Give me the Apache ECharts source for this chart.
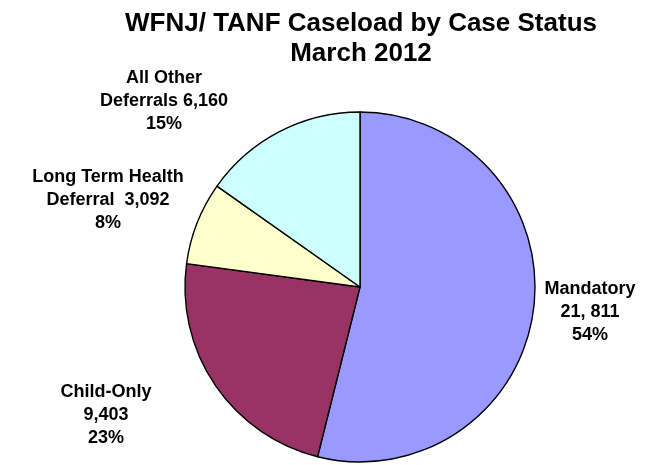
<!DOCTYPE html>
<html>
<head>
<meta charset="utf-8">
<script src="https://cdn.jsdelivr.net/npm/echarts@6/dist/echarts.min.js"></script>
<style>
  html, body { margin: 0; padding: 0; background: #fff; }
  #myChart { width: 660px; height: 465px; }
</style>
</head>
<body>
<div id="myChart"></div>
<script>
// case status categories and caseload counts
var categories = ['Mandatory', 'Child-Only', 'Long Term Health Deferral', 'All Other Deferrals'];
var caseloads = [21811, 9403, 3092, 6160];
// label text as printed on the chart
var labelLines = [
  ['Mandatory', '21, 811', '54%'],
  ['Child-Only', '9,403', '23%'],
  ['Long Term Health', 'Deferral  3,092', '8%'],
  ['All Other', 'Deferrals 6,160', '15%']
];
var titleText = 'WFNJ/ TANF Caseload by Case Status\nMarch 2012';
var colors = ['#9999FF', '#993366', '#FFFFCC', '#CCFFFF'];
// where each label block is centred (px)
var labelPos = [[590, 312], [106, 415], [108, 200], [164, 101]];

var pieData = categories.map(function (c, i) {
  return { name: c, value: caseloads[i], itemStyle: { color: colors[i] } };
});

var myChart = echarts.init(document.getElementById('myChart'));
myChart.setOption({
  animation: false,
  graphic: [{
    type: 'text',
    x: 361,
    y: 9,
    style: {
      text: titleText,
      align: 'center',
      verticalAlign: 'top',
      font: 'bold 26px "Liberation Sans", Arial, sans-serif',
      lineHeight: 30,
      fill: '#000'
    }
  }],
  series: [{
    type: 'pie',
    center: [360, 287],
    radius: 175,
    startAngle: 90,
    clockwise: true,
    itemStyle: { borderColor: '#000', borderWidth: 1.4 },
    label: {
      show: true,
      position: 'outside',
      formatter: function (p) { return labelLines[p.dataIndex].join('\n'); },
      fontFamily: '"Liberation Sans", Arial, sans-serif',
      fontWeight: 'bold',
      fontSize: 18,
      lineHeight: 23,
      color: '#000',
      align: 'center',
      overflow: 'none'
    },
    labelLine: { show: false },
    labelLayout: function (params) {
      var p = labelPos[params.dataIndex];
      return { x: p[0], y: p[1], align: 'center', verticalAlign: 'middle' };
    },
    data: pieData
  }]
});
</script>
</body>
</html>
